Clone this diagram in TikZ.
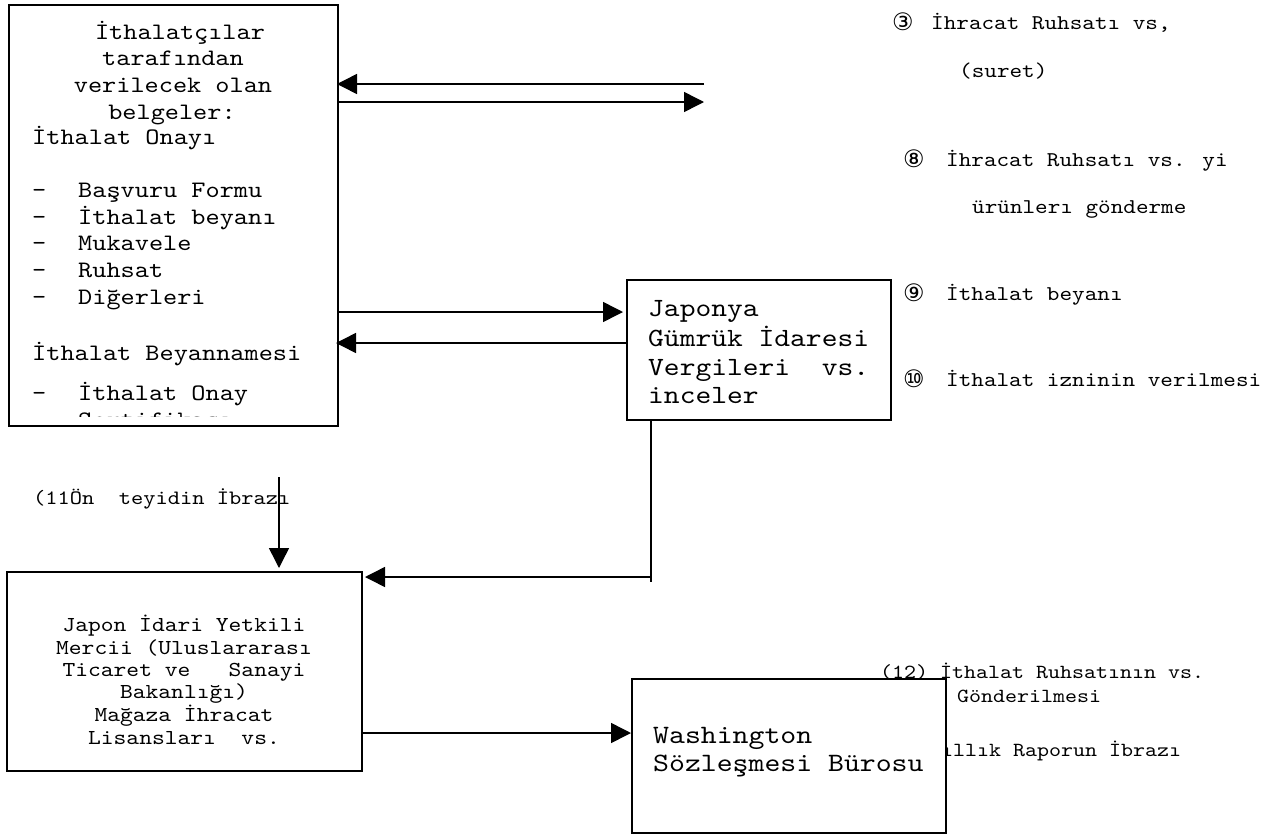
\documentclass[tikz,border=0pt]{standalone}
\usepackage{fontspec}
\setmainfont{lmmono10-regular}[Extension=.otf, FakeStretch=1.143]
\newfontfamily\circfont{DejaVu Sans}
\usetikzlibrary{arrows.meta}
\tikzset{
  box/.style={draw, line width=1.8pt, fill=white, inner sep=0pt, outer sep=0pt, anchor=north west},
  conn/.style={line width=1.5pt},
  arr/.style={line width=1.5pt, -{Triangle[length=20pt,width=20pt]}},
  txt/.style={inner sep=0pt, anchor=base west},
  ctxt/.style={inner sep=0pt, anchor=base},
  fA/.style={font=\fontsize{23.6pt}{26.7pt}\selectfont},
  fB/.style={font=\fontsize{26.3pt}{29pt}\selectfont},
  fC/.style={font=\fontsize{21.3pt}{23pt}\selectfont},
  fR/.style={font=\fontsize{21pt}{23pt}\selectfont},
  fW/.style={font=\fontsize{26.5pt}{29pt}\selectfont},
  fL/.style={font=\fontsize{20.4pt}{22pt}\selectfont},
  fT/.style={font=\fontsize{20pt}{22pt}\selectfont},
  circ/.style={inner sep=0pt, anchor=base west, font=\circfont\fontsize{24pt}{26pt}\selectfont},
}
\begin{document}
\begin{tikzpicture}[x=1pt,y=-1pt]
\useasboundingbox (0,0) rectangle (1278,836);
\fill[white] (0,0) rectangle (1278,836);

% ---------- box 1 ----------
\node[box, minimum width=329pt, minimum height=421pt] (b1) at (9,5) {};
\node[ctxt,fA] (t1a) at (180,39) {İthalatçılar};
\node[ctxt,fA] (t1b) at (173,65) {tarafından};
\node[ctxt,fA] (t1c) at (173,92) {verilecek olan};
\node[ctxt,fA] (t1d) at (172,119) {belgeler:};
\node[txt,fA] (t1e) at (32,144) {İthalat Onayı};
\node[txt,fA] (d1) at (32,197) {-};
\node[txt,fA] (i1) at (78,197) {Başvuru Formu};
\node[txt,fA] (d2) at (32,224) {-};
\node[txt,fA] (i2) at (78,224) {İthalat beyanı};
\node[txt,fA] (d3) at (32,250) {-};
\node[txt,fA] (i3) at (78,250) {Mukavele};
\node[txt,fA] (d4) at (32,277) {-};
\node[txt,fA] (i4) at (78,277) {Ruhsat};
\node[txt,fA] (d5) at (32,304) {-};
\node[txt,fA] (i5) at (78,304) {Diğerleri};
\node[txt,fA] (t1f) at (32,360) {İthalat Beyannamesi};
\node[txt,fA] (d6) at (32,400) {-};
\node[txt,fA] (i6) at (78,400) {İthalat Onay};
\begin{scope}
  \clip (12,405) rectangle (335,416.5);
  \node[txt,fA] (i7) at (78,427) {Sertifikası};
\end{scope}

% ---------- box 2 ----------
\node[box, minimum width=264pt, minimum height=140pt] (b2) at (627,280) {};
\node[txt,fB] (t2a) at (648,316) {Japonya};
\node[txt,fB] (t2b) at (648,346) {Gümrük İdaresi};
\node[txt,fB] (t2c) at (648,375) {Vergileri\ \ vs.};
\node[txt,fB] (t2d) at (648,403) {inceler};

% ---------- right side labels ----------
\node[circ] (n3) at (892,30) {③};
\node[txt,fR] (r3) at (931,29) {İhracat Ruhsatı vs,};
\node[txt,fR] (r3b) at (959,77) {(suret)};
\node[circ] (n8) at (903,167) {⑧};
\node[txt,fR] (r8) at (946,166) {İhracat Ruhsatı vs. yi};
\node[txt,fR] (r8b) at (972,213) {ürünlerı gönderme};
\node[circ] (n9) at (903,301) {⑨};
\node[txt,fR] (r9) at (946,300) {İthalat beyanı};
\node[circ] (n10) at (903,387) {⑩};
\node[txt,fR] (r10) at (946,386) {İthalat izninin verilmesi};

% ---------- label 11 ----------
\node[txt,fL] (l11) at (33,504) {(11Ön\ \ teyidin İbrazı};

% ---------- box 3 ----------
\node[box, minimum width=355pt, minimum height=199pt] (b3) at (7,572) {};
\node[ctxt,fC] (t3a) at (184,631) {Japon İdari Yetkili};
\node[ctxt,fC] (t3b) at (184,654) {Mercii (Uluslararası};
\node[ctxt,fC] (t3c) at (184,676) {Ticaret ve\ \ \ Sanayi};
\node[ctxt,fC] (t3d) at (184,698) {Bakanlığı)};
\node[ctxt,fC] (t3e) at (184,721) {Mağaza İhracat};
\node[ctxt,fC] (t3f) at (184,744) {Lisansları\ \ vs.};

% ---------- labels near box 4 (partly covered by it) ----------
\node[txt,fT] (l12) at (880,678) {(12) İthalat Ruhsatının vs.};
\node[txt,fT] (l12b) at (957,702) {Gönderilmesi};
\node[txt,fT] (l13) at (929,756) {Yıllık Raporun İbrazı};

% ---------- box 4 ----------
\node[box, minimum width=314pt, minimum height=154pt] (b4) at (632,679) {};
\node[txt,fW] (t4a) at (653,743) {Washington};
\node[txt,fW] (t4b) at (653,771) {Sözleşmesi Bürosu};

% ---------- connectors ----------
\coordinate (e1) at (704,84);
\coordinate (e2) at (704,102);
\draw[arr, shorten >=-1pt] (e1) -- (e1 -| b1.east);
\draw[arr] (b1.east |- e2) -- (e2);
\draw[arr, shorten >=4pt] (b1.east |- 0,312) -- (b2.west |- 0,312);
\draw[arr, shorten >=-2pt] (b2.west |- 0,343) -- (b1.east |- 0,343);
\coordinate (k) at (651,582);
\draw[conn] (b2.south -| k) -- (k);
\draw[arr, shorten >=3pt] (k |- 0,577) -- (b3.east |- 0,577);
\coordinate (d) at (279,477);
\draw[arr, shorten >=4pt] (d) -- (d |- b3.north);
\draw[arr, shorten >=1pt] (b3.east |- 0,733) -- (b4.west |- 0,733);
\end{tikzpicture}
\end{document}
